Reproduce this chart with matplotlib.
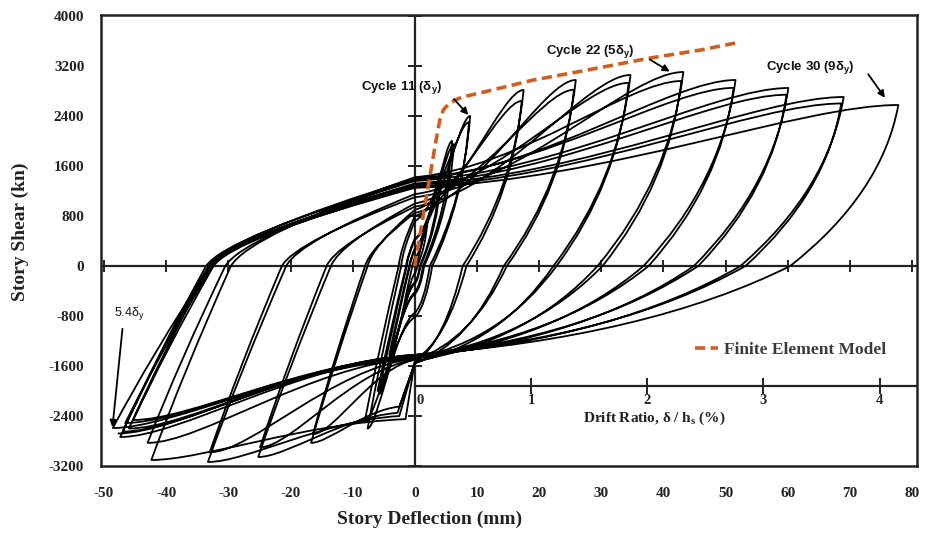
import matplotlib
matplotlib.use("Agg")
import matplotlib.pyplot as plt
from matplotlib.path import Path
from matplotlib.patches import PathPatch

# ---------------- data ----------------
x_ticks = [-50, -40, -30, -20, -10, 0, 10, 20, 30, 40, 50, 60, 70, 80]
y_ticks = [-3200, -2400, -1600, -800, 0, 800, 1600, 2400, 3200, 4000]
drift_ticks = [0, 1, 2, 3, 4]          # drift ratio (%)
story_height_mm = 1870                 # h_s used for the drift-ratio scale

# hysteresis cycles (each: push to positive peak, then pull to negative peak)
pos_peak_disp = [2.0, 4.0, 4.2, 6.0, 6.3, 8.9, 8.7, 17.5, 17.2, 25.9, 25.6, 34.7, 34.4,
                 43.2, 42.9, 51.6, 51.3, 60.1, 59.8, 69.0, 68.6, 77.8]
pos_peak_force = [700, 1400, 1380, 2000, 1950, 2400, 2300, 2816, 2640, 2976, 2820, 3056, 2930,
                  3104, 2960, 2976, 2850, 2848, 2740, 2704, 2600, 2576]
pos_unload_zero = [0.4, 0.8, 0.9, 1.3, 1.5, 2.4, 2.8, 7.7, 8.3, 14.3, 14.8, 22.3, 22.8,
                   29.4, 30.2, 36.8, 37.6, 44.9, 45.6, 52.4, 53.2, 60.4]
lower_force_at_zero = [-120, -260, -280, -420, -450, -750, -820, -1550, -1500, -1560, -1500,
                       -1540, -1480, -1520, -1470, -1480, -1440, -1460, -1430, -1440, -1420, -1424]
# bend of the lower branch just left of zero on the first pull to a new level
lower_knee_disp = [None, None, None, None, None, None, None, -2.5, None, -2.8, None,
                   -2.5, None, -1.5, None, None, None, None, None, None, None, None]
lower_knee_force = [None, None, None, None, None, None, None, -2250, None, -2350, None,
                    -2400, None, -2450, None, None, None, None, None, None, None, None]
neg_peak_disp = [-2.0, -4.0, -4.1, -5.8, -6.0, -7.6, -8.1, -16.7, -16.4, -25.2, -24.9, -33.3,
                 -33.0, -42.4, -43.0, -48.6, -47.4, -46.6, -47.0, -45.3, -46.0, -47.8]
neg_peak_force = [-750, -1450, -1420, -2050, -2000, -2600, -2500, -2830, -2690, -3056, -2900,
                  -3136, -2980, -3104, -2830, -2592, -2736, -2512, -2650, -2464, -2600, -2680]
neg_unload_zero = [-0.4, -0.8, -0.9, -1.3, -1.4, -2.2, -2.6, -7.6, -8.0, -13.5, -14.2, -20.7,
                   -21.4, -29.6, -30.5, -33.0, -33.6, -32.6, -33.2, -32.4, -33.0, None]
upper_force_at_zero = [130, 260, 280, 420, 440, 720, 800, 900, 850, 1000, 950, 1150, 1100,
                       1420, 1380, 1400, 1360, 1320, 1300, 1270, 1250, None]

# finite element model backbone
fe_disp = [0, 1.3, 2.6, 3.3, 4.0, 4.6, 5.6, 7.5, 11.1, 19.1, 27.8, 37.9, 46.0, 52.4]
fe_force = [0, 784, 1536, 1950, 2330, 2500, 2610, 2700, 2784, 2976, 3136, 3328, 3456, 3584]

# ---------------- figure ----------------
plt.rcParams["mathtext.default"] = "regular"
fig = plt.figure(figsize=(9.26, 5.35), dpi=100)
ax = fig.add_axes([101 / 926, 69 / 535, 816 / 926, 451 / 535])
ax.set_xlim(-50.5, 80.8)
ax.set_ylim(-3200, 4016)

# hysteresis loops as one continuous path (Bezier pieces through the read key points)
verts = [(0.0, 0.0)]
codes = [Path.MOVETO]


def curve3(ctrl, end):
    verts.extend([ctrl, end])
    codes.extend([Path.CURVE3] * 2)


def curve4(c1, c2, end):
    verts.extend([c1, c2, end])
    codes.extend([Path.CURVE4] * 3)


def line(end):
    verts.append(end)
    codes.append(Path.LINETO)


prev_zero, prev_upper = 0.0, 0.0
n = len(pos_peak_disp)
for i in range(n):
    dp, fp = pos_peak_disp[i], pos_peak_force[i]
    xcp, fl0 = pos_unload_zero[i], lower_force_at_zero[i]
    dn, fn = neg_peak_disp[i], neg_peak_force[i]
    if prev_zero < 0:
        curve3((0.9 * prev_zero, 0.35 * prev_upper), (0.0, prev_upper))
    curve4((0.4 * dp, prev_upper + 0.1 * (fp - prev_upper)), (0.8 * dp, fp), (dp, fp))
    curve3((xcp + 0.85 * (dp - xcp), 0.45 * fp), (xcp, 0.0))
    curve3((0.62 * xcp, 0.8 * fl0), (0.0, fl0))
    kx, kf = 0.0, fl0
    if lower_knee_disp[i] is not None:
        kx, kf = lower_knee_disp[i], lower_knee_force[i]
        line((kx, kf))
    curve4((kx + 0.4 * (dn - kx), kf + 0.1 * (fn - kf)), (kx + 0.8 * (dn - kx), fn), (dn, fn))
    xcn = neg_unload_zero[i]
    if xcn is not None:
        curve3((xcn + 0.6 * (dn - xcn), 0.55 * fn), (xcn, 0.0))
        prev_zero, prev_upper = xcn, upper_force_at_zero[i]

ax.add_patch(PathPatch(Path(verts, codes), facecolor="none", edgecolor="black",
                       lw=1.3, joinstyle="round", zorder=3))

# central axes through the origin
ax.axhline(0, color="#222222", lw=1.6, zorder=2)
ax.axvline(0, color="#222222", lw=1.6, zorder=2)
ax.plot([0] * len(y_ticks), y_ticks, ls="none", marker="_", ms=10, mew=1.4,
        color="#222222", zorder=2, clip_on=False)
ax.plot(x_ticks, [0] * len(x_ticks), ls="none", marker="|", ms=8, mew=1.4,
        color="#222222", zorder=2)

# drift-ratio secondary axis
drift_level = -1920
drift_x = [d * story_height_mm / 100 for d in drift_ticks]
ax.plot([0, 80.8], [drift_level, drift_level], color="#222222", lw=1.6, zorder=4)
ax.plot(drift_x, [drift_level] * len(drift_x), ls="none", marker="|", ms=12, mew=1.4,
        color="#222222", zorder=4)
for d, xd in zip(drift_ticks, drift_x):
    ax.text(xd + (0.8 if d == 0 else 0), drift_level - 230, str(d), ha="center",
            va="center", family="Liberation Serif", weight="bold", fontsize=10.5,
            color="#222222", zorder=5)
ax.text(38.6, -2440, "Drift Ratio, δ / h$_s$ (%)", ha="center", va="center",
        family="Liberation Serif", weight="bold", fontsize=11, color="#222222", zorder=5)

# FE model
fe_line, = ax.plot(fe_disp, fe_force, color="#cf5f1f", lw=2.6, dashes=(2.8, 1.5),
                   zorder=6, label="Finite Element Model")

# annotations
ann_font = dict(family="Liberation Sans", weight="bold", fontsize=9.5, color="#111111")
ax.text(-2.2, 2848, "Cycle 11 (δ$_y$)", ha="center", va="center", zorder=7, **ann_font)
ax.text(28.2, 3424, "Cycle 22 (5δ$_y$)", ha="center", va="center", zorder=7, **ann_font)
ax.text(63.6, 3168, "Cycle 30 (9δ$_y$)", ha="center", va="center", zorder=7, **ann_font)
ax.text(-46.0, -760, "5.4δ$_y$", ha="center", va="center", zorder=7,
        family="Liberation Sans", fontsize=9, color="#111111")
arrow = dict(arrowstyle="-|>", color="black", lw=1.3, mutation_scale=10)
ax.annotate("", xy=(8.9, 2384), xytext=(6.0, 2704), arrowprops=arrow, zorder=7)
ax.annotate("", xy=(41.4, 3088), xytext=(37.4, 3328), arrowprops=arrow, zorder=7)
ax.annotate("", xy=(75.9, 2656), xytext=(72.7, 3104), arrowprops=arrow, zorder=7)
ax.annotate("", xy=(-48.7, -2624), xytext=(-47.0, -960), arrowprops=arrow, zorder=7)

# legend
leg = ax.legend(handles=[fe_line], loc="center left", bbox_to_anchor=(0.728, 0.257),
                frameon=False, handlelength=1.3, handletextpad=0.35, borderpad=0,
                borderaxespad=0, prop=dict(family="Liberation Serif", weight="bold", size=12.5))
leg.get_texts()[0].set_color("#3a3a3a")

# outer box, ticks, labels
for s in ax.spines.values():
    s.set_linewidth(1.8)
    s.set_color("#222222")
ax.set_xticks(x_ticks)
ax.set_yticks(y_ticks)
ax.set_xticklabels([str(v) for v in x_ticks])
ax.set_yticklabels([str(v) for v in y_ticks])
ax.tick_params(axis="both", length=0)
ax.tick_params(axis="x", pad=15)
ax.tick_params(axis="y", pad=12)
for lab in ax.get_xticklabels() + ax.get_yticklabels():
    lab.set_family("Liberation Serif")
    lab.set_weight("bold")
    lab.set_fontsize(11)
    lab.set_color("#222222")

ax.set_xlabel("Story Deflection (mm)", family="Liberation Serif", weight="bold",
              fontsize=14, color="#222222")
ax.set_ylabel("Story Shear (kn)", family="Liberation Serif", weight="bold",
              fontsize=14, color="#222222")
ax.xaxis.set_label_coords(0.403, -0.10)
ax.yaxis.set_label_coords(-0.088, 0.52)

fig.savefig("out.png", dpi=100)
